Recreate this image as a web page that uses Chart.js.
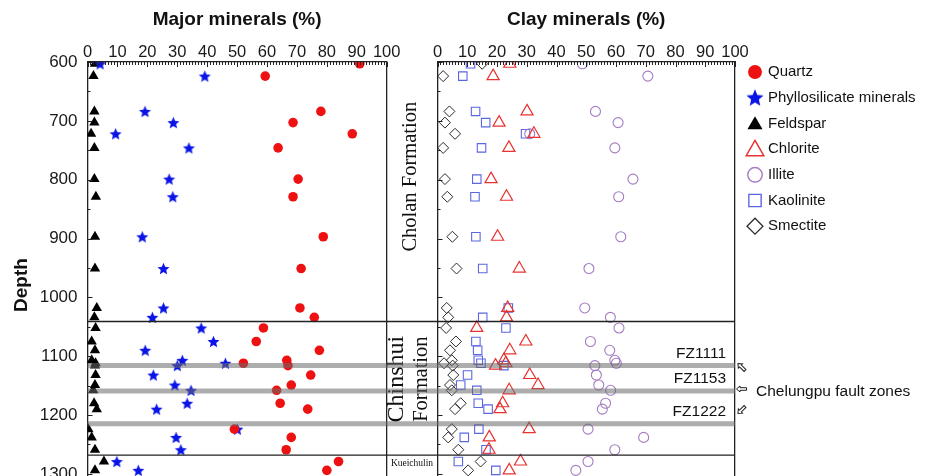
<!DOCTYPE html>
<html>
<head>
<meta charset="utf-8">
<script src="https://cdn.jsdelivr.net/npm/chart.js@4.4.1/dist/chart.umd.min.js"></script>
<style>
html, body { margin: 0; padding: 0; background: #fff; }
body { width: 927px; height: 476px; overflow: hidden; position: relative; }
#majorChart { position: absolute; left: 0; top: 0; }
#clayChart { position: absolute; left: 380px; top: 0; }
</style>
</head>
<body>
<canvas id="majorChart" width="410" height="538"></canvas>
<canvas id="clayChart" width="547" height="538"></canvas>
<script>
// sample depths (m), shared by every series
var depth = [603, 624, 684, 703, 722, 746, 799, 829, 897, 951, 1018, 1034, 1052, 1075,
    1090, 1107, 1112, 1116, 1132, 1149, 1158, 1180, 1190, 1224, 1238, 1259, 1279, 1294];

// major minerals (%)
var quartz = [91, 59.4, 78, 68.7, 88.5, 63.7, 70.4, 68.7, 78.8, 71.4, 71, 75.8, 58.8, 56.4,
    77.5, 66.6, 52.1, 67, 74.6, 68.1, 63.2, 64.4, 73.6, 49.1, 68.1, 66.4, 83.9, 80];
var phyllosilicate = [4.2, 39.2, 19.2, 28.7, 9.4, 33.9, 27.3, 28.5, 18.3, 25.4, 25.4, 21.7, 38, 42.1,
    19.3, 31.7, 46.1, 30, 22, 29.2, 34.6, 33.3, 23.1, 50.1, 29.6, 31.2, 9.8, 17];
var feldspar = [2.5, 2, 2.3, 2.3, 1.2, 2.3, 2.3, 2.8, 2.5, 2.5, 3.1, 2.3, 2.7, 1.4,
    2.5, 1.4, 2.7, 2.5, 2.7, 2.5, 1.9, 2.2, 3.1, 0.3, 1.4, 2.5, 5.5, 2.5];

// clay minerals (%)
var chlorite = [24.3, 18.7, 30.1, 20.7, 32.4, 24, 18, 23.2, 20.2, 27.5, 23.6, 23.2, 13.2, 29.7,
    24.3, 22.3, 23, 19.5, 31, 33.8, 24.1, 21.9, 21, 30.8, 17.4, 17.3, 27.9, 24.1];
var illite = [48.7, 70.7, 53.1, 60.7, 31, 59.6, 65.7, 60.9, 61.6, 50.9, 49.5, 58.1, 61, 51.4,
    57.9, 59.6, 60.1, 52.9, 53.4, 54.2, 58.2, 56.5, 55.4, 50.6, 69.3, 59.6, 50.6, 46.5];
var kaolinite = [11.1, 8.5, 12.8, 16.2, 29.6, 14.8, 13.2, 12.6, 12.9, 15.2, 23.8, 15.2, 23, 12.9,
    13.5, 13.7, 14.6, 22.3, 10.1, 7.8, 13.2, 13.7, 17, 13.9, 9, 16.3, 7, 19.6];
var smectite = [15, 1.9, 4, 2.5, 5.9, 1.9, 2.5, 3.3, 5, 6.4, 3.1, 3.6, 2.9, 6.2,
    4.2, 4.8, 2.2, 5.1, 5.3, 4.2, 4.8, 7.8, 5.9, 4.8, 3.6, 7, 14.5, 10.3];

// formations and fault zones
var formationTops = [1041, 1268];
var faultZones = ['FZ1111', 'FZ1153', 'FZ1222'];
var faultDepths = [1116, 1159, 1215];

Chart.defaults.font.family = '"Liberation Sans", Arial, Helvetica, sans-serif';
Chart.defaults.color = '#1a1a1a';

function pts(values) {
    return values.map(function (v, i) { return { x: v, y: depth[i] }; });
}

function makeStar(r, color) {
    var c = document.createElement('canvas');
    var s = Math.ceil(2 * r + 2);
    c.width = s; c.height = s;
    var g = c.getContext('2d');
    g.fillStyle = color;
    g.beginPath();
    for (var i = 0; i < 10; i++) {
        var rr = i % 2 ? r * 0.45 : r;
        var a = -Math.PI / 2 + i * Math.PI / 5;
        g.lineTo(s / 2 + rr * Math.cos(a), s / 2 + 0.6 + rr * Math.sin(a));
    }
    g.closePath();
    g.fill();
    return c;
}

var drawPoint = (Chart.helpers && Chart.helpers.drawPoint) || function (ctx, o, x, y) {
    ctx.beginPath(); ctx.arc(x, y, o.radius, 0, Math.PI * 2); ctx.fill();
};

function pctAxis(title) {
    return {
        type: 'linear', position: 'top', min: 0, max: 100,
        ticks: { stepSize: 10, padding: 0, maxRotation: 0, autoSkip: false, font: { size: 16.5 } },
        grid: { display: false, drawTicks: false },
        border: { color: '#222', width: 1.3 },
        title: { display: true, text: title, color: '#111', font: { size: 19, weight: 'bold' }, padding: { top: 8, bottom: 0 } },
        afterFit: function (s) { s.height = 62; }
    };
}

function depthAxis(labels, width) {
    return {
        type: 'linear', position: 'left', reverse: true, min: 600, max: 1358,
        ticks: {
            display: labels, stepSize: 50, padding: 10, autoSkip: false, font: { size: 17 },
            callback: function (v) { return v % 100 === 0 && v <= 1300 ? v : ''; }
        },
        grid: { display: false, drawTicks: false },
        border: { color: '#222', width: 1.3 },
        title: { display: labels, text: 'Depth', color: '#111', font: { size: 19, weight: 'bold' }, padding: { top: 10, bottom: 0 } },
        afterFit: function (s) { s.width = width; }
    };
}

var frameAxis = {
    position: 'right',
    ticks: { display: false },
    grid: { display: false, drawTicks: false },
    border: { color: '#222', width: 1.3 },
    afterFit: function (s) { s.width = 0; }
};

// tick marks point into the plot
var inwardTicks = {
    id: 'inwardTicks',
    afterDraw: function (chart) {
        var ctx = chart.ctx, a = chart.chartArea, x = chart.scales.x, y = chart.scales.y;
        ctx.save();
        ctx.strokeStyle = '#222';
        ctx.lineWidth = 1;
        ctx.beginPath();
        for (var v = 0; v <= 100; v += 1) {
            var px = Math.round(x.getPixelForValue(v)) + 0.5;
            ctx.moveTo(px, a.top);
            ctx.lineTo(px, a.top + (v % 10 === 0 ? 5 : 3));
        }
        for (var d = 600; d <= 1350; d += 50) {
            var py = Math.round(y.getPixelForValue(d)) + 0.5;
            ctx.moveTo(a.left, py);
            ctx.lineTo(a.left + (d % 100 === 0 ? 5 : 3), py);
        }
        ctx.stroke();
        ctx.restore();
    }
};

// fault zone bands and formation boundaries
var zones = {
    id: 'zones',
    afterDatasetsDraw: function (chart, args, opts) {
        var ctx = chart.ctx, a = chart.chartArea, y = chart.scales.y;
        var x0 = opts.from !== undefined ? opts.from : a.left;
        ctx.save();
        ctx.strokeStyle = 'rgba(105,105,105,0.55)';
        ctx.lineWidth = 5;
        faultDepths.forEach(function (d) {
            var py = y.getPixelForValue(d);
            ctx.beginPath(); ctx.moveTo(x0, py); ctx.lineTo(a.right, py); ctx.stroke();
        });
        ctx.strokeStyle = '#222';
        ctx.lineWidth = 1.3;
        formationTops.forEach(function (d) {
            var py = y.getPixelForValue(d);
            ctx.beginPath(); ctx.moveTo(x0, py); ctx.lineTo(a.right, py); ctx.stroke();
        });
        ctx.restore();
    }
};

var majorChart = new Chart(document.getElementById('majorChart'), {
    type: 'scatter',
    data: {
        datasets: [{
            label: 'Quartz',
            data: pts(quartz),
            pointStyle: 'circle',
            pointRadius: 4.8,
            backgroundColor: '#ee1111',
            borderColor: '#ee1111',
            borderWidth: 0,
            clip: 0,
        }, {
            label: 'Phyllosilicate minerals',
            data: pts(phyllosilicate),
            pointStyle: makeStar(6.3, '#0a14e6'),
            legendStyle: makeStar(9, '#0a14e6'),
            pointRadius: 6,
            backgroundColor: '#0a14e6',
            borderColor: '#0a14e6',
            borderWidth: 0,
            clip: 0,
        }, {
            label: 'Feldspar',
            data: pts(feldspar),
            pointStyle: 'triangle',
            pointRadius: 6,
            backgroundColor: '#000',
            borderColor: '#000',
            borderWidth: 0,
            clip: 0,
        }],
    },
    options: {
        responsive: false,
        animation: false,
        events: [],
        layout: { padding: { top: 0, left: 0, right: 23.3, bottom: 30 } },
        plugins: { legend: { display: false }, tooltip: { enabled: false } },
        scales: {
            x: pctAxis('Major minerals (%)'),
            y: depthAxis(true, 87.5),
            yr: frameAxis,
        },
    },
    plugins: [zones, inwardTicks],
});

function drawArrow(ctx, x, y, angle) {
    ctx.save();
    ctx.translate(x, y);
    ctx.rotate(angle);
    ctx.beginPath();
    ctx.moveTo(-5, 0); ctx.lineTo(-1.5, -3); ctx.lineTo(-1.5, -1.3); ctx.lineTo(5, -1.3);
    ctx.lineTo(5, 1.3); ctx.lineTo(-1.5, 1.3); ctx.lineTo(-1.5, 3); ctx.closePath();
    ctx.fillStyle = '#fff'; ctx.fill();
    ctx.strokeStyle = '#222'; ctx.lineWidth = 1; ctx.stroke();
    ctx.restore();
}

function vText(ctx, text, x, y, font) {
    ctx.save();
    ctx.translate(x, y);
    ctx.rotate(-Math.PI / 2);
    ctx.font = font;
    ctx.textAlign = 'center';
    ctx.textBaseline = 'middle';
    ctx.fillText(text, 0, 0);
    ctx.restore();
}

var serif = '"Liberation Serif", "Times New Roman", serif';
var sans = '"Liberation Sans", Arial, Helvetica, sans-serif';

// formation names, fault zone labels and the legend
var annotations = {
    id: 'annotations',
    beforeDatasetsDraw: function (chart) {
        var ctx = chart.ctx, y = chart.scales.y;
        ctx.save();
        ctx.fillStyle = '#111';
        vText(ctx, 'Cholan Formation', 31, y.getPixelForValue(795), '20.5px ' + serif);
        vText(ctx, 'Chinshui', 16.5, y.getPixelForValue(1139), '24px ' + serif);
        vText(ctx, 'Formation', 41.5, y.getPixelForValue(1139), '20.5px ' + serif);
        ctx.font = '9.5px ' + serif;
        ctx.textAlign = 'center';
        ctx.textBaseline = 'middle';
        ctx.fillText('Kueichulin', 32, y.getPixelForValue(1283));
        ctx.restore();
    },
    afterDraw: function (chart) {
        var ctx = chart.ctx, a = chart.chartArea, y = chart.scales.y;
        ctx.save();
        ctx.fillStyle = '#111';
        ctx.font = '15.5px ' + sans;
        ctx.textBaseline = 'middle';
        ctx.textAlign = 'right';
        faultZones.forEach(function (name, i) {
            ctx.fillText(name, a.right - 9, y.getPixelForValue(faultDepths[i]) - 12);
        });
        ctx.textAlign = 'left';
        ctx.fillText('Chelungpu fault zones', a.right + 21, 392);
        drawArrow(ctx, a.right + 6.5, 367, Math.PI / 4);
        drawArrow(ctx, a.right + 6.5, 389, 0);
        drawArrow(ctx, a.right + 6.5, 410, -Math.PI / 4);

        var sets = majorChart.data.datasets.concat(chart.data.datasets);
        ctx.font = '15px ' + sans;
        sets.forEach(function (ds, i) {
            var cx = a.right + 20, cy = 72 + i * 25.7;
            ctx.fillStyle = ds.backgroundColor;
            ctx.strokeStyle = ds.borderColor;
            ctx.lineWidth = ds.borderWidth * 1.25;
            drawPoint(ctx, {
                pointStyle: ds.legendStyle || ds.pointStyle,
                radius: ds.pointRadius * 1.45,
                borderWidth: ds.borderWidth,
                rotation: 0
            }, cx, ds.pointStyle === 'triangle' ? cy + 1.5 : cy);
            ctx.fillStyle = '#111';
            ctx.fillText(ds.label, a.right + 33, cy);
        });
        ctx.restore();
    }
};

var clayChart = new Chart(document.getElementById('clayChart'), {
    type: 'scatter',
    data: {
        datasets: [{
            label: 'Chlorite',
            data: pts(chlorite),
            pointStyle: 'triangle',
            pointRadius: 7,
            backgroundColor: 'transparent',
            borderColor: '#e8322f',
            borderWidth: 1.2,
            clip: 0,
        }, {
            label: 'Illite',
            data: pts(illite),
            pointStyle: 'circle',
            pointRadius: 5,
            backgroundColor: 'transparent',
            borderColor: '#a47cc2',
            borderWidth: 1.1,
            clip: 0,
        }, {
            label: 'Kaolinite',
            data: pts(kaolinite),
            pointStyle: 'rect',
            pointRadius: 6,
            backgroundColor: 'transparent',
            borderColor: '#5b66e3',
            borderWidth: 1.1,
            clip: 0,
        }, {
            label: 'Smectite',
            data: pts(smectite),
            pointStyle: 'rectRot',
            pointRadius: 5.5,
            backgroundColor: 'transparent',
            borderColor: '#2a2a2a',
            borderWidth: 1,
            clip: 0,
        }],
    },
    options: {
        responsive: false,
        animation: false,
        events: [],
        layout: { padding: { top: 0, left: 0, right: 192, bottom: 30 } },
        plugins: {
            legend: { display: false },
            tooltip: { enabled: false },
            zones: { from: 6.7 },
        },
        scales: {
            x: pctAxis('Clay minerals (%)'),
            y: depthAxis(false, 57.5),
            yr: frameAxis,
        },
    },
    plugins: [annotations, zones, inwardTicks],
});
</script>
</body>
</html>
